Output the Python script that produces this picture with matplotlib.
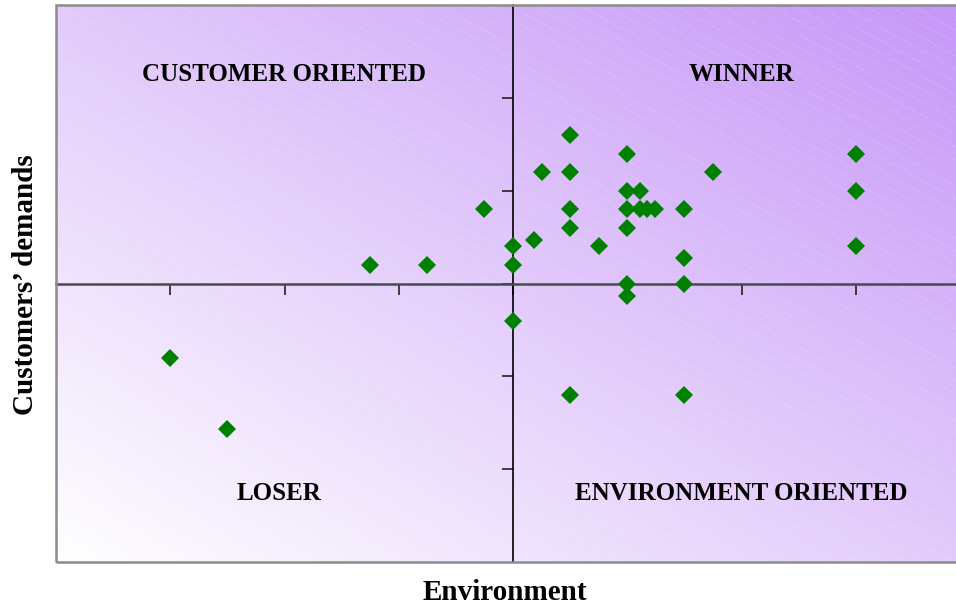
import numpy as np
import matplotlib.pyplot as plt
from matplotlib.patches import Rectangle

# scores
environment = [0.5, 1.0, 3.0, 0.25, 0.5, 1.75, 1.0, 1.11, 3.0, -0.25,
               0.5, 1.0, 1.11, 1.17, 1.24, 1.5, 0.5, 1.0, 0.18, 0.75,
               0.0, 3.0, -1.25, -0.75, 0.0, 1.5, 1.0, 1.5, 1.0, 0.0,
               -3.0, 0.5, 1.5, -2.5]
demands = [1.6, 1.4, 1.4, 1.2, 1.2, 1.2, 1.0, 1.0, 1.0, 0.8,
           0.8, 0.8, 0.8, 0.8, 0.8, 0.8, 0.6, 0.6, 0.47, 0.4,
           0.4, 0.4, 0.2, 0.2, 0.2, 0.27, 0.0, 0.0, -0.14, -0.4,
           -0.8, -1.2, -1.2, -1.57]

quadrants = ["CUSTOMER ORIENTED", "WINNER", "LOSER", "ENVIRONMENT ORIENTED"]
quad_pos = [(-2, 2.25), (2, 2.25), (-2.05, -2.26), (2, -2.26)]

W, H = 956, 609
fig = plt.figure(figsize=(W / 100, H / 100), dpi=100)
ax_w, ax_h = 914, 557
ax = fig.add_axes([56 / W, 47 / H, ax_w / W, ax_h / H])
ax.set_xlim(-4, 4)
ax.set_ylim(-3, 3)

# diagonal white -> violet gradient
n = 300
gx, gy = np.meshgrid(np.linspace(0, 1, n), np.linspace(0, 1, n))
t = (gx + gy) / 2
c0 = np.array([255, 255, 255]) / 255
c1 = np.array([198, 150, 248]) / 255
img = c0 + (c1 - c0) * t[..., None]
ax.imshow(img, extent=[0, 1, 0, 1], origin='lower', transform=ax.transAxes,
          aspect='auto', zorder=0, interpolation='bilinear')

# faint dotted hatch lines
xs = np.array([0, ax_w])
for c in np.arange(0, ax_h + 0.55 * ax_w + 13, 13):
    ys = c - 0.55 * xs
    ax.plot(xs / ax_w, ys / ax_h, transform=ax.transAxes, color='white',
            lw=0.8, ls=(0, (1, 1.5)), alpha=0.25, zorder=1)

# axes crossing at origin
for s in ['top', 'right']:
    ax.spines[s].set_visible(False)
ax.spines['left'].set_position(('data', 0))
ax.spines['bottom'].set_position(('data', 0))
ax.spines['left'].set_color('black')
ax.spines['left'].set_linewidth(1.2)
ax.spines['bottom'].set_color('#4a4a4a')
ax.spines['bottom'].set_linewidth(1.8)
ax.set_xticks([-3, -2, -1, 0, 1, 2, 3])
ax.set_yticks([-2, -1, 0, 1, 2])
ax.tick_params(direction='out', length=8, width=1.2, colors='#222222',
               labelbottom=False, labelleft=False)

ax.add_patch(Rectangle((0, 0), 1, 1, transform=ax.transAxes, fill=False,
                       edgecolor='#8c8c8c', lw=1.8, clip_on=False, zorder=5))

ax.plot(environment, demands, 'D', color='#008000', markersize=9,
        markeredgewidth=0, zorder=4)

for label, (qx, qy) in zip(quadrants, quad_pos):
    ax.text(qx, qy, label, ha='center', va='center', fontsize=18,
            fontweight='bold', family='Liberation Serif', zorder=6)

fig.text(505 / W, 1 - 593 / H, "Environment", ha='center', va='center',
         fontsize=21, fontweight='bold', family='Liberation Serif')
fig.text(26 / W, 1 - 285 / H, "Customers\u2019 demands", ha='center',
         va='center', rotation=90, fontsize=21, fontweight='bold',
         family='Liberation Serif')

fig.savefig("out.png", dpi=100)
